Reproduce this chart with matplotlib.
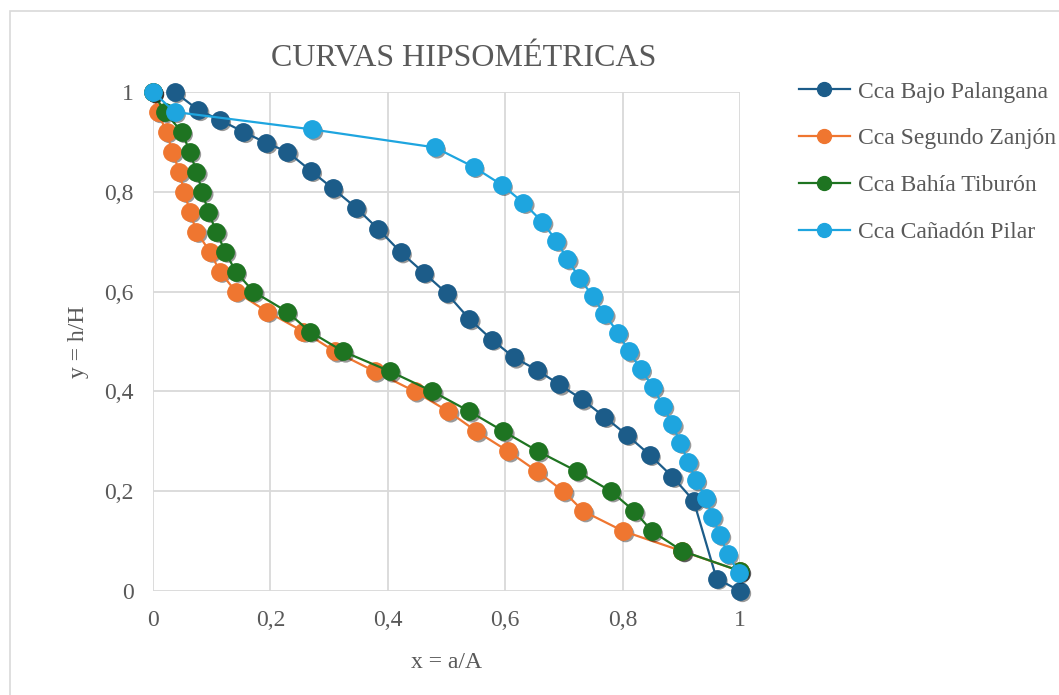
import matplotlib
matplotlib.use("Agg")
import matplotlib.pyplot as plt
import matplotlib.patheffects as pe
from matplotlib.patches import Rectangle

# ---------------- data ----------------
title = "CURVAS HIPSOMÉTRICAS"
xlabel = "x = a/A"
ylabel = "y = h/H"
ticks = [0, 0.2, 0.4, 0.6, 0.8, 1.0]
tick_labels = ["0", "0,2", "0,4", "0,6", "0,8", "1"]

names = ["Cca Bajo Palangana", "Cca Segundo Zanjón", "Cca Bahía Tiburón", "Cca Cañadón Pilar"]

bajo_x = [0.037, 0.077, 0.114, 0.154, 0.193, 0.229, 0.269, 0.306, 0.346, 0.384, 0.422, 0.461, 0.500,
          0.539, 0.577, 0.615, 0.654, 0.692, 0.731, 0.769, 0.807, 0.846, 0.885, 0.921, 0.960, 1.0]
bajo_y = [1.0, 0.964, 0.944, 0.920, 0.898, 0.880, 0.842, 0.807, 0.768, 0.725, 0.679, 0.638, 0.597,
          0.545, 0.504, 0.468, 0.443, 0.414, 0.384, 0.349, 0.313, 0.273, 0.229, 0.181, 0.025, 0.0]

segundo_x = [0.0, 0.008, 0.023, 0.033, 0.045, 0.053, 0.063, 0.074, 0.097, 0.114, 0.141, 0.194, 0.256,
             0.310, 0.378, 0.446, 0.503, 0.551, 0.605, 0.654, 0.699, 0.733, 0.801, 0.901, 1.0]
segundo_y = [1.0, 0.96, 0.92, 0.88, 0.84, 0.80, 0.76, 0.72, 0.68, 0.64, 0.60, 0.56, 0.52,
             0.48, 0.44, 0.40, 0.36, 0.32, 0.28, 0.24, 0.20, 0.16, 0.12, 0.08, 0.04]

bahia_x = [0.0, 0.020, 0.049, 0.063, 0.074, 0.084, 0.094, 0.108, 0.123, 0.141, 0.171, 0.228, 0.267,
           0.324, 0.404, 0.476, 0.539, 0.597, 0.656, 0.722, 0.780, 0.820, 0.850, 0.902, 1.0]
bahia_y = [1.0, 0.96, 0.92, 0.88, 0.84, 0.80, 0.76, 0.72, 0.68, 0.64, 0.60, 0.56, 0.52,
           0.48, 0.44, 0.40, 0.36, 0.32, 0.28, 0.24, 0.20, 0.16, 0.12, 0.08, 0.04]

pilar_x = [0.0, 0.037, 0.271, 0.480, 0.546, 0.594, 0.631, 0.663, 0.687, 0.706, 0.726, 0.749, 0.769,
           0.792, 0.811, 0.831, 0.852, 0.869, 0.885, 0.898, 0.912, 0.925, 0.942, 0.953, 0.966, 0.979, 0.998]
pilar_y = [1.0, 0.960, 0.925, 0.889, 0.850, 0.814, 0.778, 0.740, 0.702, 0.665, 0.628, 0.591, 0.555,
           0.518, 0.480, 0.444, 0.408, 0.371, 0.334, 0.297, 0.259, 0.222, 0.186, 0.149, 0.112, 0.074, 0.037]

series_x = [bajo_x, segundo_x, bahia_x, pilar_x]
series_y = [bajo_y, segundo_y, bahia_y, pilar_y]
colors = ["#1C5C89", "#EF7630", "#1E7421", "#1EA5DF"]

# ---------------- figure ----------------
plt.rcParams["font.family"] = ["Liberation Serif", "DejaVu Serif"]
W, H = 1059, 695
fig = plt.figure(figsize=(W / 100, H / 100), dpi=100)
fig.patch.set_facecolor("white")

# outer chart border (cropped at right/bottom)
fig.patches.append(Rectangle((10 / W, -0.1), 1.2, 1 - 11 / H + 0.1, transform=fig.transFigure,
                             fill=False, edgecolor="#D9D9D9", linewidth=1.2))

ax = fig.add_axes([153 / W, 1 - 591 / H, (740 - 153) / W, (591 - 92) / H])
ax.set_xlim(0, 1)
ax.set_ylim(0, 1)
ax.set_xticks(ticks)
ax.set_yticks(ticks)
ax.set_xticklabels(tick_labels)
ax.set_yticklabels(tick_labels)
ax.tick_params(length=0, labelsize=17, labelcolor="#595959")
ax.tick_params(axis="x", pad=14)
ax.tick_params(axis="y", pad=14)
ax.grid(True, color="#D9D9D9", linewidth=1.3)
ax.set_axisbelow(True)
for s in ax.spines.values():
    s.set_visible(False)

shadow = [pe.SimplePatchShadow(offset=(1.8, -1.8), alpha=0.4, shadow_rgbFace="black")]
for i, (xs, ys, c, n) in enumerate(zip(series_x, series_y, colors, names)):
    ax.plot(xs, ys, linestyle="none", marker="o", markersize=12.5, color=c,
            clip_on=False, path_effects=shadow, zorder=2 + 2 * i)
    ax.plot(xs, ys, color=c, linewidth=1.6, marker="o", markersize=12.5,
            markeredgecolor=c, markerfacecolor=c, label=n, clip_on=False, zorder=3 + 2 * i)

ax.set_xlabel(xlabel, fontsize=17, color="#595959", labelpad=15)
ax.set_ylabel(ylabel, fontsize=17, color="#595959", labelpad=11)

fig.text(464 / W, 1 - 58 / H, title, ha="center", va="center", fontsize=23, color="#595959")

leg = fig.legend(loc="upper left", bbox_to_anchor=(792 / W, 1 - 74 / H), frameon=False,
                 fontsize=17, labelcolor="#595959", handlelength=2.15, handletextpad=0.33,
                 labelspacing=1.07, markerscale=0.8, borderaxespad=0, borderpad=0.3)

fig.savefig("out.png", dpi=100, facecolor="white")
